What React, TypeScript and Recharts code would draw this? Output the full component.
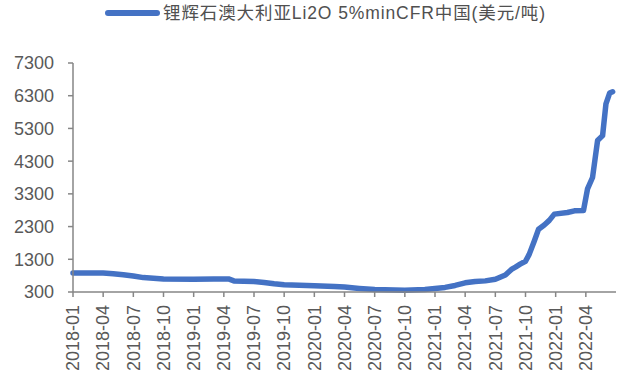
import { LineChart, Line, XAxis, YAxis } from 'recharts'

// 日期 / 价格（美元/吨）
const dates = [
  '2018-01-01', '2018-04-01', '2018-05-01', '2018-06-01', '2018-07-01', '2018-08-01',
  '2018-09-01', '2018-10-01', '2019-01-01', '2019-03-01', '2019-04-15', '2019-05-01',
  '2019-07-01', '2019-08-01', '2019-09-01', '2019-10-01', '2020-01-01', '2020-03-01',
  '2020-04-01', '2020-05-15', '2020-07-01', '2020-10-01', '2020-12-01', '2021-01-01',
  '2021-02-01', '2021-03-01', '2021-04-01', '2021-05-01', '2021-06-01', '2021-07-01',
  '2021-07-10', '2021-08-01', '2021-08-19', '2021-09-01', '2021-09-15', '2021-10-01',
  '2021-10-12', '2021-10-27', '2021-11-10', '2021-11-27', '2021-12-12', '2021-12-27',
  '2022-02-06', '2022-02-27', '2022-03-24', '2022-04-06', '2022-04-21', '2022-05-06',
  '2022-05-21', '2022-06-01', '2022-06-12', '2022-06-21',
]

const prices = [
  880, 880, 860, 830, 790, 740,
  720, 700, 690, 700, 700, 640,
  620, 590, 550, 520, 490, 470,
  450, 410, 375, 355, 375, 410,
  440, 500, 580, 620, 640, 690,
  730, 820, 990, 1060, 1150, 1240,
  1450, 1850, 2220, 2350, 2490, 2680,
  2730, 2780, 2790, 3450, 3800, 4930,
  5080, 6050, 6380, 6420,
]

const yTicks = [300, 1300, 2300, 3300, 4300, 5300, 6300, 7300]
const xTicks = [0, 3, 6, 9, 12, 15, 18, 21, 24, 27, 30, 33, 36, 39, 42, 45, 48, 51]

const seriesName = '锂辉石澳大利亚Li2O 5%minCFR中国(美元/吨)'

// 日期 -> 距 2018-01 的月数
const toMonth = (d: string) => {
  const [y, m, day] = d.split('-').map(Number)
  return (y - 2018) * 12 + (m - 1) + (day - 1) / 30
}

const monthLabel = (v: number) => {
  const y = 2018 + Math.floor(v / 12)
  const m = (v % 12) + 1
  return `${y}-${m < 10 ? '0' + m : m}`
}

const chartData = dates.map((d, i) => ({ t: toMonth(d), price: prices[i] }))

const font = '"Liberation Sans", Arial, "Noto Sans CJK SC", sans-serif'

const XTick = (props: any) => {
  const { x, y, payload } = props
  return (
    <text
      x={x}
      y={y + 6}
      transform={`rotate(-90, ${x}, ${y + 6})`}
      textAnchor="end"
      dy="0.35em"
      fontSize={18}
      fill="#595959"
      fontFamily={font}
    >
      {monthLabel(payload.value)}
    </text>
  )
}

export default function App() {
  return (
    <div style={{ position: 'absolute', left: 0, top: 0, width: 622, height: 376, background: '#fff' }}>
      <LineChart
        width={622}
        height={376}
        data={chartData}
        margin={{ top: 63, right: 6, bottom: 0, left: 0 }}
      >
        <XAxis
          dataKey="t"
          type="number"
          domain={[0, 54]}
          ticks={xTicks}
          interval={0}
          height={84}
          tickSize={5}
          stroke="#868686"
          strokeWidth={1.5}
          tick={<XTick />}
        />
        <YAxis
          domain={[300, 7300]}
          ticks={yTicks}
          interval={0}
          width={73}
          tickSize={5}
          tickMargin={14}
          stroke="#868686"
          strokeWidth={1.5}
          tick={{ fill: '#595959', fontSize: 18, fontFamily: font }}
        />
        <Line
          type="linear"
          dataKey="price"
          stroke="#4472C4"
          strokeWidth={5.5}
          strokeLinecap="round"
          strokeLinejoin="round"
          dot={false}
          isAnimationActive={false}
        />
      </LineChart>
      <div
        style={{
          position: 'absolute',
          left: 105,
          top: 10,
          width: 55,
          height: 6,
          borderRadius: 3,
          background: '#4472C4',
        }}
      />
      <div
        style={{
          position: 'absolute',
          left: 163,
          top: 5,
          lineHeight: '17px',
          fontSize: 17.5,
          fontFamily: font,
          color: '#505050',
          letterSpacing: 0.9,
          whiteSpace: 'nowrap',
        }}
      >
        {seriesName}
      </div>
    </div>
  )
}
